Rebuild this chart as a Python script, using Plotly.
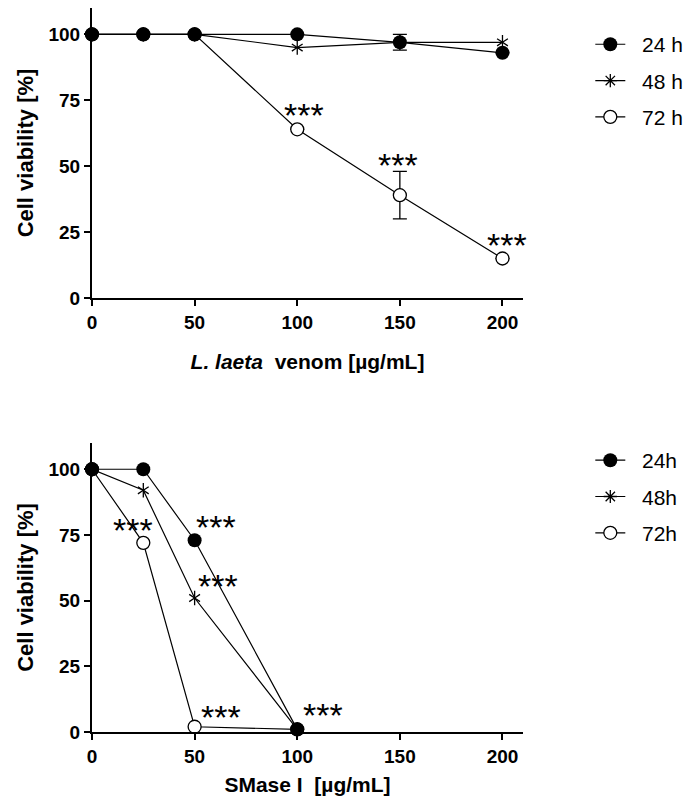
import plotly.graph_objects as go

# ---------------- data ----------------
conc_venom = [0, 25, 50, 100, 150, 200]
venom_24h = [100, 100, 100, 100, 97, 93]
venom_24h_err = [0, 0, 0, 0, 3, 0]
venom_48h = [100, 100, 100, 95, 97, 97]
venom_72h = [100, 100, 100, 64, 39, 15]
venom_72h_err = [0, 0, 0, 0, 9, 0]
# positions of the "***" labels (data units)
venom_star_x = [103.5, 149, 202]
venom_star_y = [71.8, 52.8, 22.3]

conc_smase = [0, 25, 50, 100]
smase_24h = [100, 100, 73, 1]
smase_48h = [100, 92, 51, 1]
smase_72h = [100, 72, 2, 1]
smase_star_x = [20, 60.5, 61.5, 63, 112.7]
smase_star_y = [78.6, 79.8, 57.3, 7.6, 8.2]

x_ticks = [0, 50, 100, 150, 200]
y_ticks = [0, 25, 50, 75, 100]
legend_top = ["24 h", "48 h", "72 h"]
legend_bottom = ["24h", "48h", "72h"]

FONT = "Arial, Liberation Sans, sans-serif"
NB = "\u00a0\u00a0"

fig = go.Figure()


def add_panel(xa, ya, x, y24, y48, y72, names, legend, e24=None, e72=None):
    line = dict(color="black", width=1.2)
    g = legend + "_"
    # 72 h (open circles)
    fig.add_trace(go.Scatter(
        x=x, y=y72, xaxis=xa, yaxis=ya, mode="lines+markers", name=NB + names[2],
        line=line, cliponaxis=False, legend=legend, legendrank=3,
        legendgroup=g + "72",
        marker=dict(symbol="circle", size=13, color="white",
                    line=dict(color="black", width=1.3)),
        error_y=(dict(type="data", array=e72, visible=True, color="black",
                      thickness=1.3, width=7) if e72 else None),
    ))
    # 48 h (six-armed asterisk = y-up + y-down)
    fig.add_trace(go.Scatter(
        x=x, y=y48, xaxis=xa, yaxis=ya, mode="lines+markers", showlegend=False,
        line=line, cliponaxis=False, legend=legend, legendgroup=g + "48",
        marker=dict(symbol="y-up-open", size=9, color="black",
                    line=dict(color="black", width=1.3)),
    ))
    fig.add_trace(go.Scatter(
        x=x, y=y48, xaxis=xa, yaxis=ya, mode="markers", showlegend=False,
        cliponaxis=False, legend=legend, legendgroup=g + "48",
        marker=dict(symbol="y-down-open", size=9, color="black",
                    line=dict(color="black", width=1.3)),
    ))
    # legend entry for 48 h
    fig.add_trace(go.Scatter(
        x=[None], y=[None], xaxis=xa, yaxis=ya, mode="lines+markers",
        name=NB + names[1], line=line, legend=legend, legendrank=2,
        legendgroup=g + "48",
        marker=dict(symbol="asterisk-open", size=11, color="black",
                    line=dict(color="black", width=1.3)),
    ))
    # 24 h (filled circles)
    fig.add_trace(go.Scatter(
        x=x, y=y24, xaxis=xa, yaxis=ya, mode="lines+markers", name=NB + names[0],
        line=line, cliponaxis=False, legend=legend, legendrank=1,
        legendgroup=g + "24",
        marker=dict(symbol="circle", size=14, color="black"),
        error_y=(dict(type="data", array=e24, visible=True, color="black",
                      thickness=1.3, width=7) if e24 else None),
    ))


add_panel("x", "y", conc_venom, venom_24h, venom_48h, venom_72h, legend_top,
          "legend", e24=venom_24h_err, e72=venom_72h_err)
add_panel("x2", "y2", conc_smase, smase_24h, smase_48h, smase_72h, legend_bottom,
          "legend2")

# significance stars
for sx, sy in zip(venom_star_x, venom_star_y):
    fig.add_annotation(x=sx, y=sy, xref="x", yref="y", text="***",
                       showarrow=False, yanchor="middle", xanchor="center",
                       yshift=-6,
                       font=dict(family=FONT, size=34, color="black"))
for sx, sy in zip(smase_star_x, smase_star_y):
    fig.add_annotation(x=sx, y=sy, xref="x2", yref="y2", text="***",
                       showarrow=False, yanchor="middle", xanchor="center",
                       yshift=-5,
                       font=dict(family=FONT, size=34, color="black"))

axis_common = dict(
    showline=True, linecolor="black", linewidth=2, mirror=False,
    ticks="outside", ticklen=6, tickwidth=2, tickcolor="black",
    showgrid=False, zeroline=False, automargin=False,
    tickfont=dict(family=FONT, size=19, color="black", weight="bold"),
)
xtitle_font = dict(family=FONT, size=21, weight="bold", color="black")
ytitle_font = dict(family=FONT, size=22, weight="bold", color="black")

legend_common = dict(
    xref="container", yref="container", xanchor="left", yanchor="top",
    bgcolor="rgba(0,0,0,0)", traceorder="grouped", tracegroupgap=6,
    itemwidth=30, font=dict(family=FONT, size=21, color="black"),
)

fig.update_layout(
    width=688, height=803,
    margin=dict(l=92, r=165, t=8, b=71, autoexpand=False),
    paper_bgcolor="white", plot_bgcolor="white",
    font=dict(family=FONT, color="black"),
    xaxis=dict(domain=[0, 1], range=[0, 210], tickvals=x_ticks, anchor="y",
               title=dict(text="<i>L. laeta</i>  venom [µg/mL]", standoff=22,
                          font=xtitle_font),
               **axis_common),
    yaxis=dict(domain=[0.5994, 1], range=[0, 110], tickvals=y_ticks,
               anchor="x",
               title=dict(text="Cell viability [%]", standoff=9,
                          font=ytitle_font),
               **axis_common),
    xaxis2=dict(domain=[0, 1], range=[0, 210], tickvals=x_ticks, anchor="y2",
                title=dict(text="SMase I  [µg/mL]", standoff=12,
                           font=xtitle_font),
                **axis_common),
    yaxis2=dict(domain=[0, 0.3992], range=[0, 110], tickvals=y_ticks,
                anchor="x2",
                title=dict(text="Cell viability [%]", standoff=9,
                           font=ytitle_font),
                **axis_common),
    legend=dict(x=0.858, y=0.970, **legend_common),
    legend2=dict(x=0.858, y=0.452, **legend_common),
    showlegend=True,
)

fig.write_html(
    "out.html",
    config={"displayModeBar": False},
    post_script="document.body.style.margin='0';document.body.style.overflow='hidden';",
)
